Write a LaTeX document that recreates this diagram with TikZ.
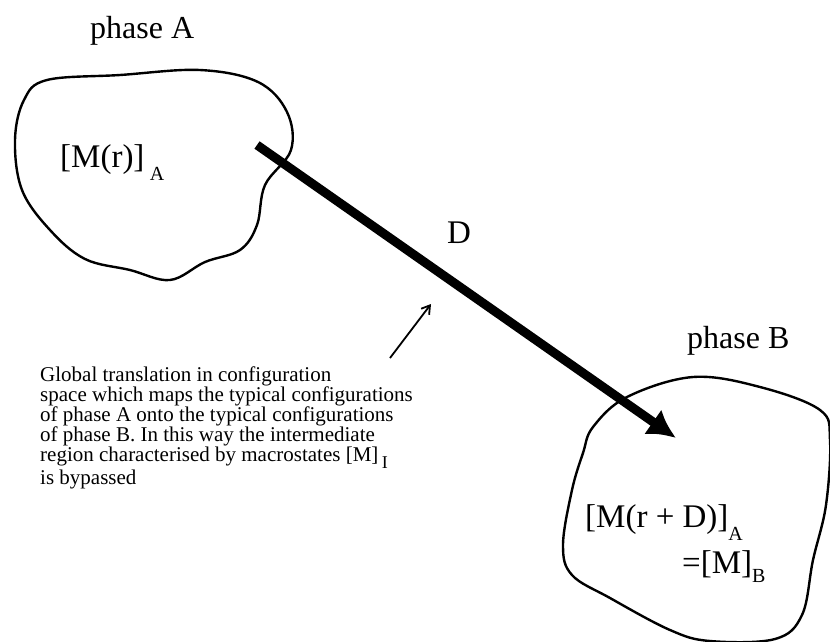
\documentclass[tikz,border=0pt]{standalone}
\usepackage{fontspec}
\setmainfont{Liberation Serif}
\usetikzlibrary{arrows.meta}
% lowered small-size subscript: depth, size, text
\newcommand{\lowsub}[3]{\raisebox{-#1}{\fontsize{#2}{#2}\selectfont #3}}

\begin{document}
\begin{tikzpicture}[x=1pt,y=-1pt,
  region/.style={line width=2.4pt, line join=round},
  biglabel/.style={font=\fontsize{33}{36}\selectfont, inner sep=0pt, anchor=base west},
  phaselabel/.style={font=\fontsize{32}{36}\selectfont, inner sep=0pt, anchor=base west},
  caption/.style={font=\fontsize{21}{19.9}\selectfont, inner sep=0pt, anchor=base west, align=left},
  translation/.style={line width=9pt, -{Latex[length=28pt,width=30pt]}},
  pointer/.style={line width=1.8pt, -{Straight Barb[length=8pt,width=10pt]}}]
\useasboundingbox (0,0) rectangle (830,641);

% region of phase A
\draw[region] plot[smooth cycle, tension=0.6] coordinates {
  (47,80) (120,75) (200,70) (258,82) (287,112) (291,150) (265,185)
  (257,225) (240,250) (205,262) (170,280) (130,270) (85,259) (50,230)
  (22,190) (15,140) (24,100)};

% region of phase B
\draw[region] plot[smooth cycle, tension=0.6] coordinates {
  (593,427) (627,397) (693,377) (760,387) (820,410) (830,440)
  (826,505) (813,560) (802,615) (775,639) (710,641) (670,630)
  (610,598) (572,575) (563,545) (572,490) (583,453)};

% labels
\node[phaselabel] (pa) at (90,38) {phase A};
\node[phaselabel] (pb) at (687,348) {phase B};
\node[biglabel] (ma) at (60,167) {[M(r)]\,\lowsub{13pt}{20}{A}};
\node[biglabel] (mb) at (585,527) {[M(r + D)]\lowsub{13pt}{20}{A}};
\node[biglabel] (eq) at (682,573) {=[M]\lowsub{9pt}{20}{B}};
\node[biglabel] (d) at (447,243) {D};

% translation vector
\coordinate (from) at (257,145);
\coordinate (to) at (676,438);
\draw[translation] (from) -- (to);

% explanatory text (base anchor sits on its last line) and its pointer
\node[caption] (txt) at (40,484) {Global translation in configuration\\
space which maps the typical configurations\\
of phase A onto the typical configurations\\
of phase B. In this way the intermediate\\
region characterised by macrostates [M]\,\lowsub{7pt}{18}{I}\\
is bypassed};
\coordinate (ptail) at (390,358);
\coordinate (phead) at (431,304);
\draw[pointer] (ptail) -- (phead);
\end{tikzpicture}
\end{document}
